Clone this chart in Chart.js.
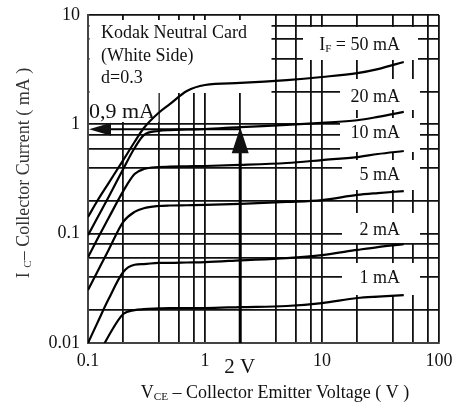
<!DOCTYPE html>
<html>
<head>
<meta charset="utf-8">
<script src="https://cdn.jsdelivr.net/npm/chart.js@4.4.1/dist/chart.umd.min.js"></script>
<style>
  html, body { margin: 0; padding: 0; background: #fff; }
  canvas { display: block; }
</style>
</head>
<body>
<canvas id="chart" width="455" height="403"></canvas>
<script>
// I_C vs V_CE, one curve per forward current I_F
const vce   = [0.1, 0.12, 0.15, 0.2, 0.25, 0.3, 0.4, 0.5, 0.7, 1, 2, 5, 10, 20, 30, 50];
const ic50  = [0.142, 0.199, 0.290, 0.471, 0.689, 0.925, 1.27, 1.53, 2.02, 2.29, 2.39, 2.54, 2.71, 2.94, 3.2, 3.72];
const ic20  = [0.097, 0.139, 0.216, 0.390, 0.607, 0.798, 0.869, 0.887, 0.897, 0.906, 0.944, 0.987, 1.03, 1.09, 1.17, 1.30];
const ic10  = [0.061, 0.089, 0.139, 0.245, 0.351, 0.390, 0.407, 0.410, 0.413, 0.416, 0.425, 0.443, 0.471, 0.502, 0.535, 0.570];
const ic5   = [0.0305, 0.0446, 0.071, 0.128, 0.158, 0.171, 0.179, 0.181, 0.182, 0.183, 0.187, 0.195, 0.203, 0.226, 0.235, 0.245];
const ic2   = [0.010, 0.0152, 0.0252, 0.0446, 0.052, 0.0527, 0.054, 0.054, 0.0545, 0.055, 0.057, 0.0598, 0.0637, 0.071, 0.0754, 0.080];
const ic1   = [null, 0.0074, 0.0116, 0.0184, 0.020, 0.0204, 0.0207, 0.0209, 0.0209, 0.0209, 0.0213, 0.0218, 0.0232, 0.0258, 0.0266, 0.0274];
const curveLabels = ['50 mA', '20 mA', '10 mA', '5 mA', '2 mA', '1 mA'];

// grid lines and the labelled decades
const xGrid = [0.1, 0.2, 0.4, 0.6, 0.8, 1, 2, 4, 6, 8, 10, 20, 40, 60, 80, 100];
const yGrid = [0.01, 0.02, 0.04, 0.06, 0.08, 0.1, 0.2, 0.4, 0.6, 0.8, 1, 2, 4, 6, 8, 10];
const xDecades = [0.1, 1, 10, 100];
const xTickLabels = ['0.1', '1', '10', '100'];
const yDecades = [0.01, 0.1, 1, 10];
const yTickLabels = ['0.01', '0.1', '1', '10'];

// operating point marked with the arrows
const markV = 2;
const markI = 0.9;

const SERIF = '"Liberation Serif", "DejaVu Serif", serif';
const font = (size) => `${size}px ${SERIF}`;

// text with subscripts: parts = [[text, isSub], ...]
function drawRich(ctx, parts, x, y, size, align) {
    const subSize = size * 0.62;
    const widths = parts.map(([t, sub]) => {
        ctx.font = font(sub ? subSize : size);
        return ctx.measureText(t).width;
    });
    const total = widths.reduce((a, b) => a + b, 0);
    let cx = align === 'right' ? x - total : align === 'center' ? x - total / 2 : x;
    ctx.textAlign = 'left';
    ctx.textBaseline = 'middle';
    parts.forEach(([t, sub], i) => {
        ctx.font = font(sub ? subSize : size);
        ctx.fillText(t, cx, sub ? y + size * 0.22 : y);
        cx += widths[i];
    });
}

// label boxes in the plot: white patches that hide the grid behind the text
const labelBoxes = [
    { x0: 303, x1: 418, y0: 27, y1: 60, cy: 45 },
    { x0: 340, x1: 420, y0: 79, y1: 110, cy: 97 },
    { x0: 340, x1: 420, y0: 118, y1: 152, cy: 133 },
    { x0: 342, x1: 420, y0: 160, y1: 190, cy: 175 },
    { x0: 342, x1: 420, y0: 213, y1: 243, cy: 230 },
    { x0: 342, x1: 420, y0: 263, y1: 295, cy: 278 }
];

const decor = {
    id: 'decor',
    beforeDatasetsDraw(chart) {
        const { ctx, chartArea: a } = chart;
        ctx.save();
        ctx.fillStyle = '#fff';
        // Kodak note and the 0,9 mA label
        ctx.fillRect(a.left + 1.5, 20, 270 - a.left, 73);
        ctx.fillRect(a.left + 1.5, 93, 157 - a.left, 29);
        for (const b of labelBoxes) ctx.fillRect(b.x0, b.y0, b.x1 - b.x0, b.y1 - b.y0);
        ctx.restore();
    },
    afterDatasetsDraw(chart) {
        const { ctx, chartArea: a, scales } = chart;
        const xs = scales.x, ys = scales.y;
        ctx.save();
        ctx.fillStyle = '#111';
        ctx.strokeStyle = '#000';

        // curve labels
        drawRich(ctx, [['I', false], ['F', true], [' = ' + curveLabels[0], false]], 400, labelBoxes[0].cy, 18, 'right');
        for (let i = 1; i < curveLabels.length; i++) {
            drawRich(ctx, [[curveLabels[i], false]], 400, labelBoxes[i].cy, 18, 'right');
        }

        // note
        drawRich(ctx, [['Kodak Neutral Card', false]], 101, 33, 18, 'left');
        drawRich(ctx, [['(White Side)', false]], 101, 56, 18, 'left');
        drawRich(ctx, [['d=0.3', false]], 101, 78, 18, 'left');

        // arrows at the operating point
        const px = xs.getPixelForValue(markV);
        const py = ys.getPixelForValue(markI);
        ctx.lineWidth = 2;
        ctx.beginPath();
        ctx.moveTo(px, py);
        ctx.lineTo(a.left + 18, py);
        ctx.stroke();
        ctx.beginPath();
        ctx.moveTo(a.left + 1, py);
        ctx.lineTo(a.left + 23, py - 6.5);
        ctx.lineTo(a.left + 23, py + 6.5);
        ctx.closePath();
        ctx.fill();

        ctx.lineWidth = 3;
        ctx.beginPath();
        ctx.moveTo(px, a.bottom);
        ctx.lineTo(px, py + 20);
        ctx.stroke();
        ctx.beginPath();
        ctx.moveTo(px, py - 2);
        ctx.lineTo(px - 8.5, py + 24);
        ctx.lineTo(px + 8.5, py + 24);
        ctx.closePath();
        ctx.fill();

        drawRich(ctx, [['0,9 mA', false]], a.left + 1, 112, 22, 'left');
        drawRich(ctx, [['2 V', false]], px - 16, 367, 21, 'left');

        // axis titles
        drawRich(ctx, [['V', false], ['CE', true], [' \u2013 Collector Emitter Voltage ( V )', false]], 275, 393, 18, 'center');
        ctx.fillStyle = '#333';
        ctx.translate(24, 173);
        ctx.rotate(-Math.PI / 2);
        drawRich(ctx, [['I ', false], ['C', true], ['\u2013 Collector Current ( mA )', false]], 0, 0, 18, 'center');
        ctx.restore();
    }
};

const curves = [ic50, ic20, ic10, ic5, ic2, ic1];

new Chart(document.getElementById('chart'), {
    type: 'line',
    data: {
        datasets: curves.map((ic, k) => ({
            label: curveLabels[k],
            data: vce.map((v, i) => ({ x: v, y: ic[i] })),
            borderColor: '#000',
            borderWidth: 2.2,
            pointRadius: 0,
            cubicInterpolationMode: 'monotone',
            fill: false
        }))
    },
    options: {
        responsive: false,
        animation: false,
        devicePixelRatio: 1,
        layout: { padding: { top: 15, right: 16, left: 0, bottom: 0 } },
        plugins: { legend: { display: false }, tooltip: { enabled: false } },
        scales: {
            x: {
                type: 'logarithmic',
                min: 0.1,
                max: 100,
                afterBuildTicks: (s) => { s.ticks = xGrid.map(v => ({ value: v })); },
                afterFit: (s) => { s.height = 60; s.paddingLeft = 0; s.paddingRight = 0; },
                grid: { color: '#111', lineWidth: 1.8, drawTicks: false },
                border: { color: '#444', width: 2 },
                ticks: {
                    autoSkip: false,
                    maxRotation: 0,
                    padding: 7,
                    color: '#111',
                    font: { family: SERIF, size: 18 },
                    callback: (v) => {
                        const i = xDecades.indexOf(v);
                        return i < 0 ? '' : xTickLabels[i];
                    }
                }
            },
            y: {
                type: 'logarithmic',
                min: 0.01,
                max: 10,
                afterBuildTicks: (s) => { s.ticks = yGrid.map(v => ({ value: v })); },
                afterFit: (s) => { s.width = 88; s.paddingTop = 0; s.paddingBottom = 0; },
                grid: { color: '#111', lineWidth: 1.8, drawTicks: false },
                border: { color: '#444', width: 2 },
                ticks: {
                    autoSkip: false,
                    padding: 8,
                    color: '#111',
                    font: { family: SERIF, size: 18 },
                    callback: (v) => {
                        const i = yDecades.indexOf(v);
                        return i < 0 ? '' : yTickLabels[i];
                    }
                }
            }
        }
    },
    plugins: [decor]
});
</script>
</body>
</html>
